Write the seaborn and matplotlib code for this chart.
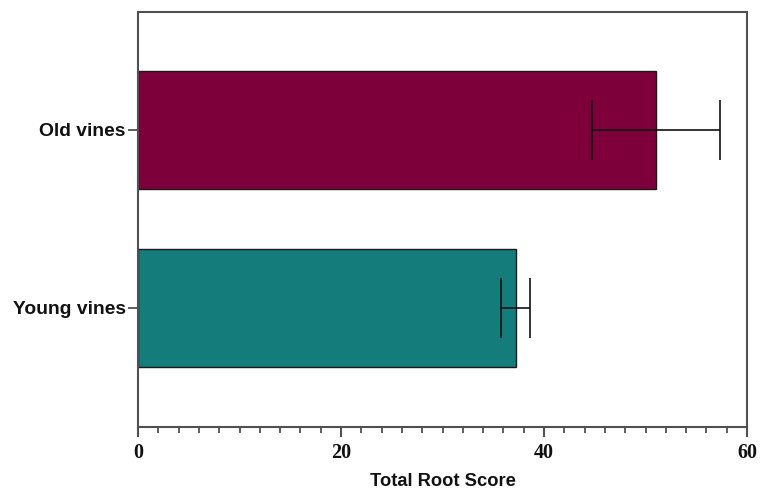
import matplotlib
matplotlib.use("Agg")
import matplotlib.pyplot as plt
from matplotlib.ticker import MultipleLocator
import pandas as pd
import seaborn as sns

# Mean total root score per vine age group, with error (± SE)
groups = ["Old vines", "Young vines"]
scores = [51.0, 37.2]
errors = [6.3, 1.45]
colors = ["#7E003B", "#147D7B"]
x_ticks = [0, 20, 40, 60]

sns.set_theme(style="ticks")
plt.rcParams["font.family"] = ["Liberation Sans", "DejaVu Sans"]

df = pd.DataFrame({"group": groups, "score": scores})

fig = plt.figure(figsize=(7.65, 4.91), dpi=100)
ax = fig.add_axes([0.1804, 0.1303, 0.7961, 0.8453])

sns.barplot(data=df, x="score", y="group", hue="group", palette=colors,
            saturation=1, orient="h", width=0.663, edgecolor="#1a1a1a",
            linewidth=1.0, legend=False, errorbar=None, ax=ax)

# error bars from the same means
ax.errorbar(scores, range(len(groups)), xerr=errors, fmt="none",
            ecolor="#111111", elinewidth=1.2, capsize=21.5, capthick=1.2,
            zorder=5)

ax.set_xlim(0, 60)
ax.set_ylim(1.669, -0.663)
ax.set_xticks(x_ticks)
ax.xaxis.set_minor_locator(MultipleLocator(2))

for side in ["left", "right", "top", "bottom"]:
    ax.spines[side].set_visible(True)
    ax.spines[side].set_color("#505050")
    ax.spines[side].set_linewidth(1.5)

ax.tick_params(axis="x", which="major", direction="out", length=7.5,
               width=1.5, color="#505050", pad=4)
ax.tick_params(axis="x", which="minor", direction="out", length=4.5,
               width=1.3, color="#505050")
ax.tick_params(axis="y", which="major", direction="out", length=7,
               width=1.3, color="#505050", pad=2)

for lbl in ax.get_xticklabels():
    lbl.set_fontfamily("Liberation Serif")
    lbl.set_fontweight("bold")
    lbl.set_fontsize(14.5)
    lbl.set_color("#111111")
for lbl in ax.get_yticklabels():
    lbl.set_fontweight("bold")
    lbl.set_fontsize(13.9)
    lbl.set_color("#111111")

ax.set_ylabel("")
ax.set_xlabel("Total Root Score", fontsize=13.2, fontweight="bold",
              color="#111111", labelpad=7)

fig.savefig("out.png", dpi=100)
